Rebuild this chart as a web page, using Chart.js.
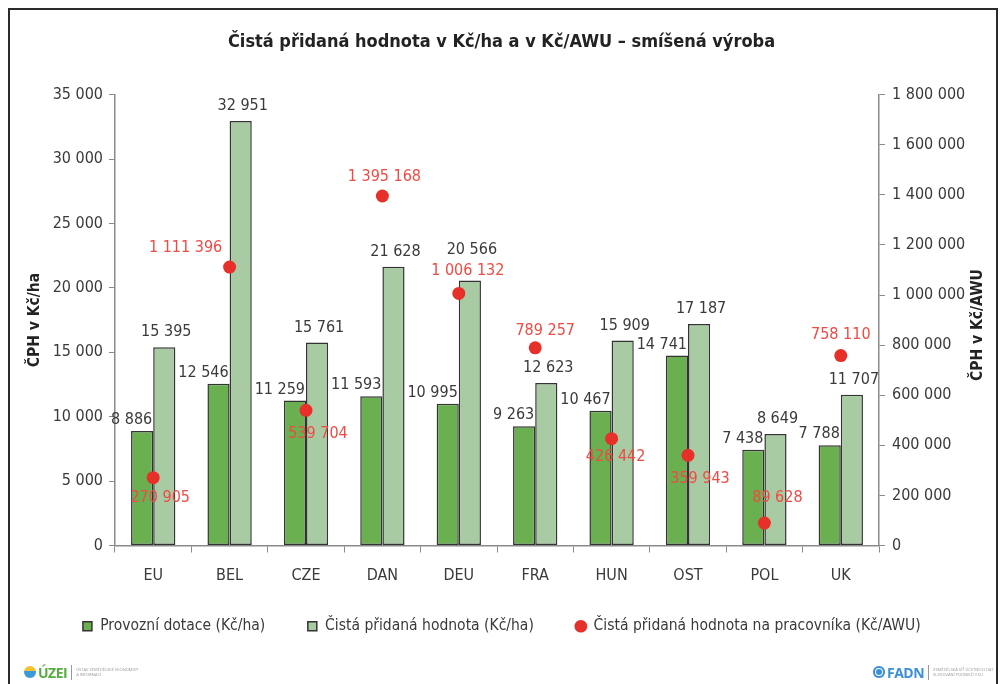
<!DOCTYPE html>
<html lang="cs">
<head>
<meta charset="utf-8">
<title>Čistá přidaná hodnota – smíšená výroba</title>
<script src="https://cdn.jsdelivr.net/npm/chart.js@4.4.1/dist/chart.umd.min.js"></script>
<style>
  html, body { margin: 0; padding: 0; background: #fff; }
  body {
    width: 1003px; height: 684px; position: relative; overflow: hidden;
    font-family: 'DejaVu Sans Condensed', 'Liberation Sans Narrow', sans-serif;
  }
  .frame {
    position: absolute; left: 8px; top: 8px; width: 990px; height: 720px;
    border: 2.5px solid #2b2b2b; box-sizing: border-box;
  }
  .chart-box { position: absolute; left: 0; top: 0; width: 1003px; height: 684px; }

  .logo { position: absolute; top: 664px; display: flex; align-items: center; height: 16px; }
  .logo .icon { width: 12px; height: 12px; border-radius: 50%; margin-right: 2px; }
  .logo b { font-family: 'Open Sans', sans-serif; font-size: 14px; letter-spacing: -0.5px; }
  .logo .sep { width: 1px; height: 15px; background: #999; margin: 0 4px; }
  .logo .tiny { font-family: 'Open Sans', sans-serif; font-size: 4px; line-height: 5px; color: #999; }
  .uzei { left: 24px; }
  .uzei .icon { background: linear-gradient(#f2c230 45%, #3d9ad8 45%); }
  .uzei b { color: #55ad3f; }
  .fadn { left: 873px; }
  .fadn .icon { background: #3b8fd4; box-shadow: inset 0 0 0 2px #3b8fd4, inset 0 0 0 3px #fff; }
  .fadn b { color: #3b8fd4; }
</style>
</head>
<body>
<div class="frame"></div>
<div class="chart-box"><canvas id="cphChart"></canvas></div>

<div class="logo uzei">
  <span class="icon"></span><b>ÚZEI</b><span class="sep"></span>
  <span class="tiny">ÚSTAV ZEMĚDĚLSKÉ EKONOMIKY<br>A INFORMACÍ</span>
</div>
<div class="logo fadn">
  <span class="icon"></span><b>FADN</b><span class="sep"></span>
  <span class="tiny">ZEMĚDĚLSKÁ SÍŤ ÚČETNÍCH DAT<br>SLEDOVÁNÍ PODNIKŮ V EU</span>
</div>

<script>
const chartTitle = 'Čistá přidaná hodnota v Kč/ha a v Kč/AWU – smíšená výroba';
const categories = ['EU', 'BEL', 'CZE', 'DAN', 'DEU', 'FRA', 'HUN', 'OST', 'POL', 'UK'];
const seriesNames = [
    'Provozní dotace (Kč/ha)',
    'Čistá přidaná hodnota (Kč/ha)',
    'Čistá přidaná hodnota na pracovníka (Kč/AWU)'
];
const subsidyPerHa = [8886, 12546, 11259, 11593, 10995, 9263, 10467, 14741, 7438, 7788];
const gvaPerHa = [15395, 32951, 15761, 21628, 20566, 12623, 15909, 17187, 8649, 11707];
const gvaPerAwu = [270905, 1111396, 539704, 1395168, 1006132, 789257, 426442, 359943, 89628, 758110];
const leftAxisMax = 35000, leftAxisStep = 5000;
const rightAxisMax = 1800000, rightAxisStep = 200000;
const leftAxisTitle = 'ČPH v Kč/ha';
const rightAxisTitle = 'ČPH v Kč/AWU';

const FONT = "'DejaVu Sans Condensed', 'Liberation Sans Narrow', sans-serif";
const TEXT = '#3a3a3a';
const AXIS = '#8a8a8a';

Chart.defaults.font.family = FONT;

// 12546 -> "12 546"
function fmt(v) {
    return String(v).replace(/\B(?=(\d{3})+(?!\d))/g, ' ');
}

// popisky hodnot + pravý nadpis osy (text čte zdola nahoru)
const valueLabels = {
    id: 'valueLabels',
    afterLayout(chart, args, opts) {
        // legenda o kus výš, aby mezi položkami zůstaly široké mezery
        chart.legend.top += opts.legendShift;
        chart.legend.bottom += opts.legendShift;
    },
    afterDatasetsDraw(chart, args, opts) {
        const ctx = chart.ctx;
        ctx.save();
        ctx.font = '16px ' + FONT;
        ctx.textBaseline = 'middle';

        ctx.fillStyle = TEXT;
        ctx.textAlign = 'right';
        chart.getDatasetMeta(0).data.forEach((bar, i) => {
            ctx.fillText(fmt(subsidyPerHa[i]), bar.x + bar.width / 2 - 1, bar.y - 11);
        });
        ctx.textAlign = 'center';
        chart.getDatasetMeta(1).data.forEach((bar, i) => {
            const lift = opts.lightLift[i] || 0;
            ctx.fillText(fmt(gvaPerHa[i]), bar.x + 2, bar.y - 15 - lift);
        });

        ctx.fillStyle = '#f04a44';
        chart.getDatasetMeta(2).data.forEach((pt, i) => {
            const off = opts.awuOffsets[i];
            ctx.fillText(fmt(gvaPerAwu[i]), pt.x + off[0], pt.y + off[1]);
        });

        const area = chart.chartArea;
        ctx.translate(opts.rightTitleX, (area.top + area.bottom) / 2 + 5);
        ctx.rotate(-Math.PI / 2);
        ctx.font = 'bold 15.5px ' + FONT;
        ctx.fillStyle = '#222';
        ctx.fillText(rightAxisTitle, 0, 0);
        ctx.restore();
    }
};

const ctx = document.getElementById('cphChart').getContext('2d');
new Chart(ctx, {
    type: 'bar',
    data: {
        labels: categories,
        datasets: [{
            label: seriesNames[0],
            data: subsidyPerHa,
            backgroundColor: '#6aaf50',
            borderColor: '#333',
            borderWidth: 1.5,
            borderSkipped: false,
            categoryPercentage: 0.58,
            barPercentage: 1,
            pointStyle: 'rect',
            yAxisID: 'y',
            order: 1
        }, {
            label: seriesNames[1],
            data: gvaPerHa,
            backgroundColor: '#a9cba3',
            borderColor: '#333',
            borderWidth: 1.5,
            borderSkipped: false,
            categoryPercentage: 0.58,
            barPercentage: 1,
            pointStyle: 'rect',
            yAxisID: 'y',
            order: 1
        }, {
            type: 'line',
            label: seriesNames[2],
            data: gvaPerAwu,
            showLine: false,
            backgroundColor: '#e8302a',
            borderColor: '#e8302a',
            borderWidth: 0,
            pointRadius: 6.5,
            pointHoverRadius: 6.5,
            pointStyle: 'circle',
            yAxisID: 'y1',
            order: 0
        }]
    },
    options: {
        responsive: true,
        maintainAspectRatio: false,
        animation: false,
        layout: {
            padding: { top: 0, bottom: 29, left: 0, right: 0 }
        },
        plugins: {
            title: {
                display: true,
                text: chartTitle,
                color: '#222',
                font: { size: 18, weight: 'bold' },
                padding: { top: 32, bottom: 41 }
            },
            legend: {
                position: 'bottom',
                labels: {
                    usePointStyle: true,
                    boxWidth: 10,
                    boxHeight: 9,
                    padding: 42,
                    color: TEXT,
                    font: { size: 15.5 },
                    sort: (a, b) => a.datasetIndex - b.datasetIndex
                }
            },
            tooltip: { enabled: false },
            valueLabels: {
                rightTitleX: 978,
                legendShift: -11,
                lightLift: { 4: 16 },
                awuOffsets: [[7, 20], [-44, -19], [12, 24], [2, -19], [9, -23],
                             [10, -17], [4, 18], [12, 24], [13, -25], [0, -21]]
            }
        },
        scales: {
            x: {
                grid: {
                    offset: true,
                    drawOnChartArea: false,
                    drawTicks: true,
                    tickLength: 7,
                    color: AXIS
                },
                border: { color: AXIS, width: 1.5 },
                ticks: {
                    color: TEXT,
                    font: { size: 16 },
                    padding: 14
                },
                afterFit: function(scale) {
                    scale.height = 42;
                }
            },
            y: {
                position: 'left',
                min: 0,
                max: leftAxisMax,
                grid: {
                    drawOnChartArea: false,
                    drawTicks: true,
                    tickLength: 6,
                    color: AXIS
                },
                border: { color: AXIS, width: 1.5 },
                ticks: {
                    stepSize: leftAxisStep,
                    color: TEXT,
                    font: { size: 16 },
                    padding: 6,
                    callback: function(value) {
                        return fmt(value);
                    }
                },
                title: {
                    display: true,
                    text: leftAxisTitle,
                    color: '#222',
                    font: { size: 15.5, weight: 'bold' },
                    padding: { top: 26, bottom: 0 }
                },
                afterFit: function(scale) {
                    scale.width = 115;
                }
            },
            y1: {
                position: 'right',
                min: 0,
                max: rightAxisMax,
                grid: {
                    drawOnChartArea: false,
                    drawTicks: true,
                    tickLength: 6,
                    color: AXIS
                },
                border: { color: AXIS, width: 1.5 },
                ticks: {
                    stepSize: rightAxisStep,
                    color: TEXT,
                    font: { size: 16 },
                    padding: 7,
                    callback: function(value) {
                        return fmt(value);
                    }
                },
                afterFit: function(scale) {
                    scale.width = 124;
                }
            }
        }
    },
    plugins: [valueLabels]
});
</script>
</body>
</html>
